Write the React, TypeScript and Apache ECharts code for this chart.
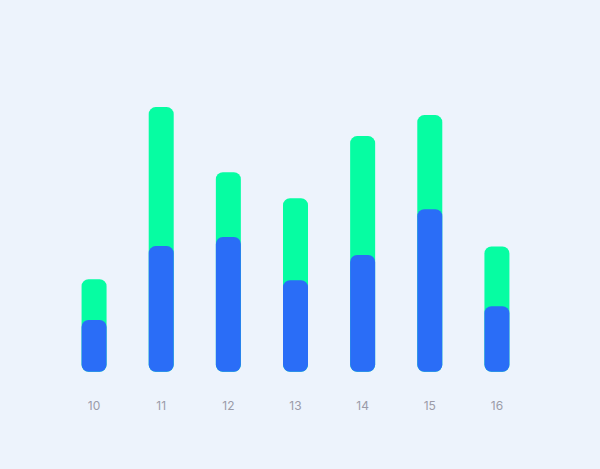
import * as echarts from "echarts";
import React, { useEffect, useRef } from "react";

const days = ["10", "11", "12", "13", "14", "15", "16"];
// total height of each bar (green part shows above the blue one)
const totalValues = [22, 63, 47.5, 41.3, 56.1, 61.1, 29.8];
const blueValues = [12.3, 29.9, 32.1, 21.8, 27.8, 38.7, 15.6];

const App: React.FC = () => {
  const chartRef = useRef<HTMLDivElement | null>(null);

  useEffect(() => {
    const chart = echarts.init(chartRef.current, null, { renderer: "svg" });
    chart.setOption({
      animation: false,
      backgroundColor: "#EDF3FC",
      grid: {
        left: 60.5,
        right: 69.5,
        top: 77.7,
        bottom: 97.3,
      },
      xAxis: {
        type: "category",
        data: days,
        axisLine: { show: false },
        axisTick: { show: false },
        axisLabel: {
          color: "#9B9BA8",
          fontSize: 12,
          fontFamily: "Inter",
          margin: 28,
        },
      },
      yAxis: {
        type: "value",
        min: 0,
        max: 70,
        show: false,
        splitLine: { show: false },
      },
      series: [
        {
          name: "total",
          type: "bar",
          data: totalValues,
          barWidth: 25,
          itemStyle: { color: "#06FDA2", borderRadius: 7 },
        },
        {
          name: "blue",
          type: "bar",
          data: blueValues,
          barWidth: 25,
          barGap: "-100%",
          z: 3,
          itemStyle: { color: "#2A6DF7", borderRadius: 7 },
        },
      ],
    });

    return () => {
      chart.dispose();
    };
  }, []);

  return (
    <div
      ref={chartRef}
      style={{ position: "fixed", left: 0, top: 0, width: "600px", height: "469px" }}
    ></div>
  );
};

export default App;
